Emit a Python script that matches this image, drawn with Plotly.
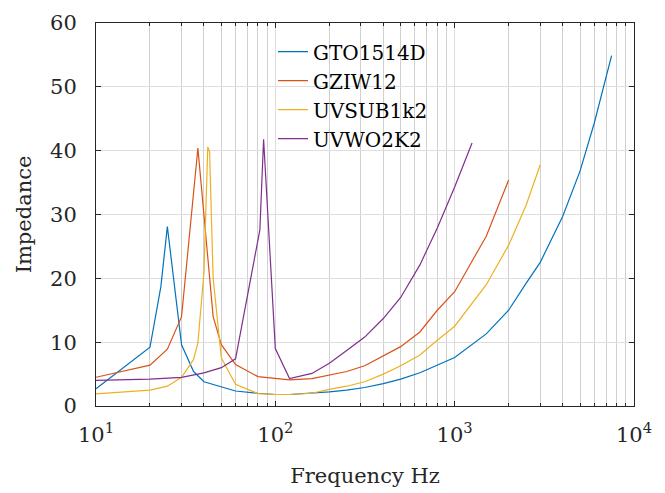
import plotly.graph_objects as go

# ---- data ----
f_gto = [10, 20, 23, 25, 30, 35, 40, 50, 60, 80, 100, 120, 160, 200, 250, 315, 400, 500, 640, 800, 1000, 1500, 2000, 2500, 3000, 4000, 5000, 6000, 7500]
z_gto = [2.7, 9.2, 18.7, 28.1, 9.6, 5.4, 3.8, 3.0, 2.35, 2.0, 1.8, 1.8, 2.0, 2.2, 2.5, 2.9, 3.5, 4.2, 5.2, 6.4, 7.6, 11.3, 15.0, 19.2, 22.5, 29.7, 36.8, 44.3, 54.9]

f_gziw = [10, 20, 25, 30, 37, 45, 50, 60, 80, 100, 120, 160, 200, 250, 315, 400, 500, 640, 800, 1000, 1500, 2000]
z_gziw = [4.5, 6.4, 8.9, 14.0, 40.4, 14.0, 9.6, 6.5, 4.6, 4.3, 4.1, 4.3, 4.8, 5.4, 6.3, 7.8, 9.3, 11.6, 15.0, 17.9, 26.6, 35.4]

f_uvsub = [10, 20, 25, 30, 35, 37, 40, 42, 43, 45, 50, 60, 80, 100, 120, 160, 200, 250, 315, 400, 500, 640, 800, 1000, 1500, 2000, 2500, 3000]
z_uvsub = [1.9, 2.5, 3.1, 4.5, 7.3, 9.9, 21.0, 40.6, 39.8, 20.0, 7.5, 3.4, 1.95, 1.8, 1.8, 2.0, 2.6, 3.1, 3.8, 5.0, 6.3, 8.0, 10.3, 12.5, 19.0, 25.2, 31.4, 37.8]

f_uvwo = [10, 20, 30, 40, 50, 60, 82, 86, 100, 120, 160, 200, 250, 315, 400, 500, 640, 800, 1000, 1250]
z_uvwo = [4.0, 4.2, 4.5, 5.2, 6.0, 7.4, 27.6, 41.8, 9.0, 4.3, 5.1, 6.7, 8.7, 10.8, 13.7, 17.0, 22.1, 27.9, 34.3, 41.2]

names = ["GTO1514D", "GZIW12", "UVSUB1k2", "UVWO2K2"]
colors = ["#0072BD", "#D95319", "#EDB120", "#7E2F8E"]

x_tickvals = [10, 100, 1000, 10000]
x_ticktext = ["10<sup>1</sup>", "10<sup>2</sup>", "10<sup>3</sup>", "10<sup>4</sup>"]
y_tickvals = [0, 10, 20, 30, 40, 50, 60]

FONT = "DejaVu Serif, serif"

fig = go.Figure()
for fx, zy, n, c in zip([f_gto, f_gziw, f_uvsub, f_uvwo],
                        [z_gto, z_gziw, z_uvsub, z_uvwo], names, colors):
    fig.add_trace(go.Scatter(x=fx, y=zy, mode="lines", name=n,
                             line=dict(color=c, width=1.2)))

axis_common = dict(
    showline=True, linecolor="#262626", linewidth=1, mirror="ticks",
    ticks="inside", tickcolor="#262626", ticklen=5,
    zeroline=False, automargin=False,
    tickfont=dict(family=FONT, size=21, color="#262626"),
)

fig.update_xaxes(type="log", range=[1, 4], tickvals=x_tickvals, ticktext=x_ticktext,
                 showgrid=True, gridcolor="#dedede", gridwidth=1,
                 minor=dict(dtick="D1", showgrid=True, gridcolor="#d0d0d0",
                            ticks="inside", ticklen=3, tickcolor="#262626"),
                 title=dict(text="Frequency Hz", font=dict(family=FONT, size=21, color="#262626"), standoff=22),
                 ticklabelstandoff=10,
                 **axis_common)
fig.update_yaxes(range=[0, 60], tickvals=y_tickvals,
                 showgrid=True, gridcolor="#dedede", gridwidth=1,
                 title=dict(text="Impedance", font=dict(family=FONT, size=21, color="#262626"), standoff=12),
                 ticklabelstandoff=14,
                 **axis_common)

fig.update_layout(
    width=665, height=493,
    margin=dict(l=88, r=39, t=15, b=95),
    paper_bgcolor="white", plot_bgcolor="white",
    font=dict(family=FONT, size=21, color="#262626"),
    showlegend=True,
    legend=dict(x=0.329, y=0.976, xanchor="left", yanchor="top",
                bgcolor="rgba(255,255,255,0)", borderwidth=0,
                font=dict(family=FONT, size=20, color="#000000"),
                tracegroupgap=0, itemwidth=30),
)

fig.write_html("out.html")
